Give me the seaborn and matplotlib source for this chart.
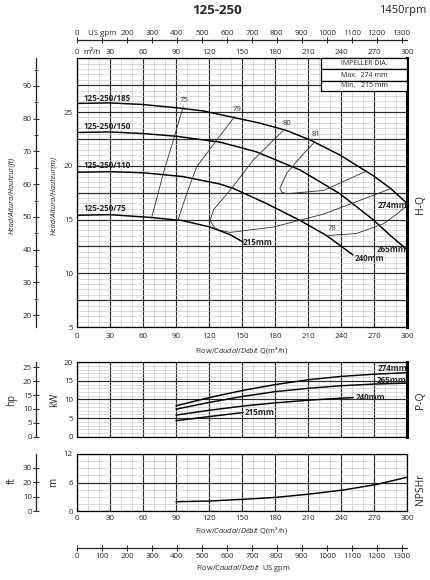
import numpy as np
import pandas as pd
import matplotlib
matplotlib.use("Agg")
import matplotlib.pyplot as plt
import seaborn as sns
from matplotlib.ticker import MultipleLocator, FuncFormatter
from matplotlib.patches import Rectangle

# ---------------- data ----------------
title = "125-250"
speed = "1450rpm"
diam_labels = ["274mm", "265mm", "240mm", "215mm"]
motor_labels = ["125-250/185", "125-250/150", "125-250/110", "125-250/75"]

# H-Q curves (m3/h, m)
hq_274_q = [0, 30, 60, 90, 115, 142, 165, 190, 212, 239, 269, 285, 300]
hq_274_h = [25.8, 25.85, 25.7, 25.4, 25.1, 24.5, 24.0, 23.3, 22.4, 21.0, 19.1, 17.9, 16.5]
hq_265_q = [0, 30, 60, 90, 130, 163, 203, 239, 269, 285, 300]
hq_265_h = [23.1, 23.15, 23.0, 22.75, 22.2, 21.3, 19.6, 17.4, 15.0, 13.5, 12.2]
hq_240_q = [0, 30, 60, 96, 130, 142, 172, 203, 227, 251]
hq_240_h = [19.4, 19.45, 19.35, 19.0, 18.3, 17.9, 16.5, 14.9, 13.5, 11.7]
hq_215_q = [0, 30, 66, 96, 121, 139, 151]
hq_215_h = [15.4, 15.45, 15.2, 14.9, 14.3, 13.6, 12.9]

# iso-efficiency lines (%)
eff_names = ["75", "79", "80", "81", "78"]
eff75_q = [96.6, 87.6, 78.5, 67.9]
eff75_h = [25.5, 22.4, 19.3, 15.2]
eff79_q = [143.6, 130, 108.8, 99.7, 92.0]
eff79_h = [24.6, 22.8, 19.9, 17.4, 15.0]
eff80_q = [187.6, 160, 139, 124, 121, 125.5, 130, 139, 178.5, 224, 286]
eff80_h = [23.3, 20.5, 17.7, 15.9, 14.9, 14.2, 14.0, 13.8, 14.3, 15.5, 17.9]
eff81_q = [216, 203, 190.6, 184.5, 186, 190.6, 224, 263]
eff81_h = [22.2, 20.8, 19.3, 17.9, 17.55, 17.4, 17.7, 19.5]
eff78_q = [227, 254, 278.5, 290.6, 300]
eff78_h = [13.5, 13.7, 14.6, 15.5, 16.3]

# P-Q curves (m3/h, kW)
pq_274_q = [90, 120, 150, 180, 210, 240, 270, 300]
pq_274_p = [8.3, 10.5, 12.4, 14.0, 15.3, 16.2, 16.8, 17.2]
pq_265_q = [90, 120, 150, 180, 210, 240, 270, 300]
pq_265_p = [7.4, 9.2, 10.8, 12.1, 13.0, 13.7, 14.15, 14.4]
pq_240_q = [90, 120, 150, 180, 210, 240, 251]
pq_240_p = [5.8, 7.1, 8.2, 9.1, 9.8, 10.35, 10.5]
pq_215_q = [90, 120, 151]
pq_215_p = [4.3, 5.4, 6.5]

# NPSHr (m3/h, m)
npsh_q = [90, 121, 151, 181.5, 212, 242, 272.5, 300]
npsh_m = [1.96, 2.1, 2.46, 2.88, 3.58, 4.42, 5.6, 7.1]

q_ticks = list(range(0, 301, 30))
gpm_ticks = list(range(0, 1301, 100))
gpm_top_labels = ["0", "US gpm"] + [str(g) for g in gpm_ticks[2:]]
gpm_bottom_labels = [str(g) for g in gpm_ticks]

# ---------------- style ----------------
sns.set_style("white")
plt.rcParams['font.family'] = ['Open Sans', 'DejaVu Sans']
plt.rcParams['mathtext.fontset'] = 'custom'
plt.rcParams['mathtext.rm'] = 'Open Sans'
plt.rcParams['mathtext.it'] = 'Open Sans:italic'
plt.rcParams['axes.unicode_minus'] = False

GPM = 0.2271247
M2FT = 3.28084
KW2HP = 1.34102
TS = 5.7

W, H = 430, 580
fig = plt.figure(figsize=(4.3, 5.8), dpi=100)


def fx(px):
    return px / W


def fy(py):
    return 1 - py / H


def box(l, t, r, b):
    return [fx(l), fy(b), fx(r) - fx(l), fy(t) - fy(b)]


ax_h = fig.add_axes(box(77, 58.3, 407, 327))
ax_p = fig.add_axes(box(77, 362.3, 407, 436.7))
ax_n = fig.add_axes(box(77, 454, 407, 511))


def curve(ax, q, v, lw=1.0, color="black"):
    df = pd.DataFrame({"Q": q, "V": v})
    sns.lineplot(data=df, x="Q", y="V", ax=ax, sort=False, estimator=None,
                 color=color, linewidth=lw, legend=False, zorder=3)


def style(ax, ylim, ymaj, ymin, thick_right=True):
    ax.set_xlim(0, 300)
    ax.set_ylim(*ylim)
    ax.xaxis.set_major_locator(MultipleLocator(30))
    ax.xaxis.set_minor_locator(MultipleLocator(10))
    ax.yaxis.set_major_locator(MultipleLocator(ymaj))
    ax.yaxis.set_minor_locator(MultipleLocator(ymin))
    ax.grid(True, which='major', color='#2a2a2a', lw=0.85)
    ax.grid(True, which='minor', color='#c6c6c6', lw=0.45)
    ax.set_axisbelow(True)
    ax.tick_params(which='both', length=0, labelsize=TS, pad=3)
    for s in ax.spines.values():
        s.set_color('black')
        s.set_linewidth(0.9)
    if thick_right:
        ax.spines['right'].set_linewidth(2.2)
    ax.set_xlabel('')
    ax.set_ylabel('')


# ---------------- H-Q ----------------
for q, h in [(hq_274_q, hq_274_h), (hq_265_q, hq_265_h), (hq_240_q, hq_240_h), (hq_215_q, hq_215_h)]:
    curve(ax_h, q, h, lw=1.05)
for q, h in [(eff75_q, eff75_h), (eff79_q, eff79_h), (eff80_q, eff80_h), (eff81_q, eff81_h), (eff78_q, eff78_h)]:
    curve(ax_h, q, h, lw=0.6, color="#333333")

style(ax_h, (5, 30), 2.5, 0.5)
ax_h.yaxis.set_major_formatter(FuncFormatter(lambda v, p: f"{v:g}" if abs(v % 5) < 1e-6 and v < 29 else ""))
ax_h.xaxis.set_major_formatter(FuncFormatter(lambda v, p: f"{v:g}"))
ax_h.tick_params(axis='x', pad=4)

lab_kw = dict(fontsize=5.8, fontweight='bold', zorder=6)
for name, hh in zip(motor_labels, [26.3, 23.7, 20.0, 16.0]):
    ax_h.text(5.5, hh, name, ha='left', va='center', **lab_kw)
ax_h.text(300, 16.26, diam_labels[0], ha='right', va='center', **lab_kw)
ax_h.text(300, 12.17, diam_labels[1], ha='right', va='center', **lab_kw)
ax_h.text(252.7, 11.33, diam_labels[2], ha='left', va='center', **lab_kw)
ax_h.text(151, 12.82, diam_labels[3], ha='left', va='center', **lab_kw)
for name, (qq, hh) in zip(eff_names, [(97.3, 26.03), (145.2, 25.26), (191.2, 23.95), (217.3, 22.87), (231.5, 14.19)]):
    ax_h.text(qq, hh, name, ha='center', va='center', fontsize=5.6, color='#333333', zorder=6)

# impeller dia box
bx0 = (321 - 77) / 330
rows = [(58.3, 69.5), (69.5, 81.0), (81.0, 90.7)]
row_txt = ["IMPELLER DIA.", "Max.  274 mm", "Min.   215 mm"]
for (t, b), txt in zip(rows, row_txt):
    y0 = 1 - (b - 58.3) / 268.7
    hgt = (b - t) / 268.7
    ax_h.add_patch(Rectangle((bx0, y0), 1 - bx0, hgt, transform=ax_h.transAxes,
                             facecolor='white', edgecolor='black', lw=0.9, zorder=5, clip_on=False))
    ax_h.text(bx0 + (1 - bx0) / 2, y0 + hgt / 2, txt, transform=ax_h.transAxes,
              ha='center', va='center', fontsize=5.0, zorder=6)

# top m3/h labels
top_q = ax_h.secondary_xaxis('top')
top_q.set_xticks(q_ticks, labels=[str(v) for v in q_ticks])
top_q.tick_params(length=0, labelsize=TS, pad=1.5)
top_q.spines['top'].set_visible(False)
ax_h.text(6.2, 1 + (58.3 - 53) / 268.7, "m³/h", transform=ax_h.get_xaxis_transform(),
          ha='left', va='center', fontsize=TS)

# top US gpm axis
top_g = ax_h.secondary_xaxis(1 + (58.3 - 40) / 268.7, functions=(lambda q: q / GPM, lambda g: g * GPM))
top_g.set_xticks(gpm_ticks, labels=gpm_top_labels)
top_g.tick_params(direction='inout', length=4, width=0.7, labelsize=TS, pad=0.5)
top_g.spines['top'].set_linewidth(0.9)

# ft axis
ft_ax = ax_h.secondary_yaxis((36 - 77) / 330, functions=(lambda m: m * M2FT, lambda f: f / M2FT))
ft_ax.set_yticks(list(range(20, 91, 10)))
ft_ax.yaxis.set_minor_locator(MultipleLocator(5))
ft_ax.tick_params(which='major', direction='inout', length=4, width=0.7, labelsize=TS, pad=1)
ft_ax.tick_params(which='minor', direction='inout', length=3, width=0.6)
ft_ax.spines['left'].set_linewidth(0.9)

# ---------------- P-Q ----------------
for q, p in [(pq_274_q, pq_274_p), (pq_265_q, pq_265_p), (pq_240_q, pq_240_p), (pq_215_q, pq_215_p)]:
    curve(ax_p, q, p, lw=1.05)
style(ax_p, (0, 20), 5, 1)
ax_p.tick_params(axis='x', labelbottom=False)
ax_p.text(300, 18.4, diam_labels[0], ha='right', va='center', **lab_kw)
ax_p.text(300, 15.0, diam_labels[1], ha='right', va='center', **lab_kw)
ax_p.text(253.6, 10.5, diam_labels[2], ha='left', va='center', **lab_kw)
ax_p.text(152.7, 6.45, diam_labels[3], ha='left', va='center', **lab_kw)
hp_ax = ax_p.secondary_yaxis((36 - 77) / 330, functions=(lambda k: k * KW2HP, lambda h: h / KW2HP))
hp_ax.set_yticks(list(range(0, 26, 5)))
hp_ax.tick_params(direction='inout', length=4, width=0.7, labelsize=TS, pad=1)
hp_ax.spines['left'].set_linewidth(0.9)

# ---------------- NPSH ----------------
curve(ax_n, npsh_q, npsh_m, lw=1.05)
style(ax_n, (0, 12), 6, 1.5, thick_right=False)
ax_n.xaxis.set_major_formatter(FuncFormatter(lambda v, p: f"{v:g}"))
nft_ax = ax_n.secondary_yaxis((36 - 77) / 330, functions=(lambda m: m * M2FT, lambda f: f / M2FT))
nft_ax.set_yticks([0, 10, 20, 30])
nft_ax.tick_params(direction='inout', length=4, width=0.7, labelsize=TS, pad=1)
nft_ax.spines['left'].set_linewidth(0.9)
bot_g = ax_n.secondary_xaxis(-(547.7 - 511) / 57, functions=(lambda q: q / GPM, lambda g: g * GPM))
bot_g.set_xticks(gpm_ticks, labels=gpm_bottom_labels)
bot_g.tick_params(direction='inout', length=4, width=0.7, labelsize=TS, pad=1.5)
bot_g.spines['bottom'].set_linewidth(0.9)

# ---------------- texts ----------------
fig.text(fx(217), fy(11), title, ha='center', va='center', fontsize=9.5, fontweight='bold')
fig.text(fx(403), fy(11), speed, ha='center', va='center', fontsize=8)

side = dict(rotation=90, ha='center', va='center')
fig.text(fx(12), fy(195), "Head/Altura/Hauteur(ft)", fontsize=5.3, style='italic', **side)
fig.text(fx(54), fy(195), "Head/Altura/Hauteur(m)", fontsize=5.3, style='italic', **side)
fig.text(fx(12), fy(400), "hp", fontsize=7, **side)
fig.text(fx(55), fy(400), "kW", fontsize=7, **side)
fig.text(fx(12), fy(481), "ft", fontsize=7, **side)
fig.text(fx(54), fy(482), "m", fontsize=7, **side)
fig.text(fx(421), fy(204), "H-Q", fontsize=7.5, **side)
fig.text(fx(420), fy(400), "P-Q", fontsize=7.5, **side)
fig.text(fx(421), fy(489), "NPSHr", fontsize=7.5, **side)

flow_q = r"Flow/$\mathit{Caudal/Débit}$ Q(m³/h)"
fig.text(fx(242), fy(350), flow_q, ha='center', va='center', fontsize=5.4)
fig.text(fx(242), fy(531), flow_q, ha='center', va='center', fontsize=5.4)
fig.text(fx(243), fy(568), r"Flow/$\mathit{Caudal/Débit}$  US gpm", ha='center', va='center', fontsize=5.4)

fig.savefig("out.png", dpi=100)
